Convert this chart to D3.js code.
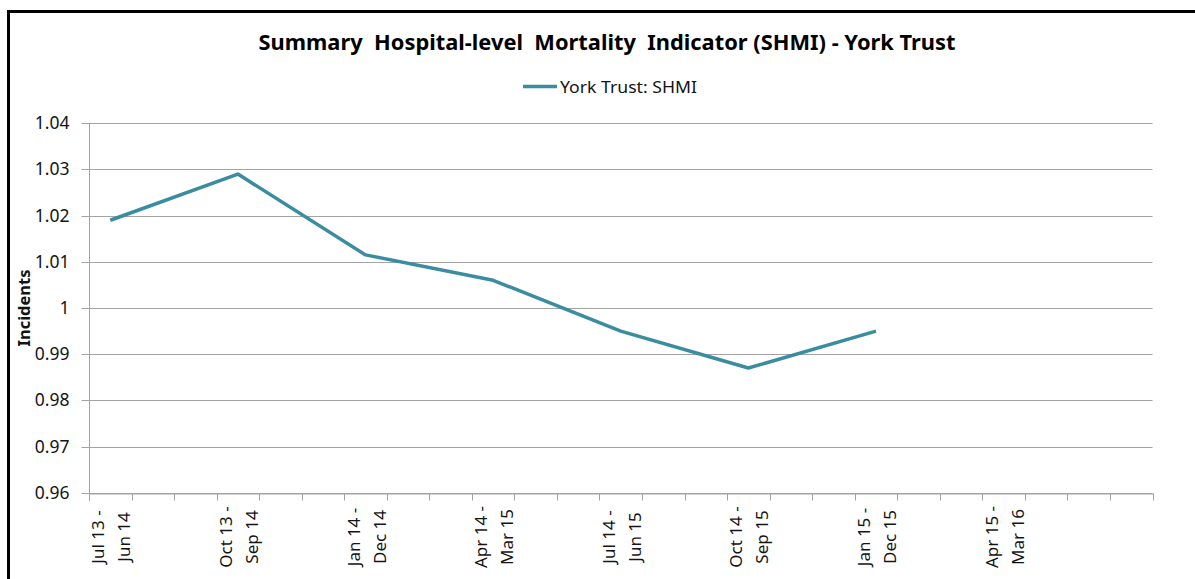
<!DOCTYPE html>
<html>
<head>
<meta charset="utf-8">
<script src="https://cdn.jsdelivr.net/npm/d3@7"></script>
<style>
  body { margin: 0; background: #fff; }
  svg { display: block; }
  text { font-family: "Noto Sans", "Open Sans", sans-serif; }
</style>
</head>
<body>
<svg id="chart" width="1195" height="579"></svg>
<script>
// ---------- data ----------
const chartTitle = "Summary  Hospital-level  Mortality  Indicator (SHMI) - York Trust";
const seriesName = "York Trust: SHMI";
const yAxisTitle = "Incidents";
// 25 category slots on the axis; only every third one carries a label
const categories = [
  "Jul 13 - Jun 14", "", "",
  "Oct 13 - Sep 14", "", "",
  "Jan 14 - Dec 14", "", "",
  "Apr 14 - Mar 15", "", "",
  "Jul 14 - Jun 15", "", "",
  "Oct 14 - Sep 15", "", "",
  "Jan 15 - Dec 15", "", "",
  "Apr 15 - Mar 16", "", "", ""
];
const shmiValues = [
  1.019, null, null,
  1.029, null, null,
  1.0115, null, null,
  1.006, null, null,
  0.995, null, null,
  0.987, null, null,
  0.995, null, null,
  null, null, null, null
];
const yTicks = [0.96, 0.97, 0.98, 0.99, 1.00, 1.01, 1.02, 1.03, 1.04];

// ---------- layout ----------
const svg = d3.select("#chart");
const plot = { left: 89, right: 1152.5, top: 123.3, bottom: 492.7 };
const lineColor = "#3A8CA0";
const gridColor = "#A3A3A3";
const textColor = "#141414";

const x = d3.scaleBand()
  .domain(d3.range(categories.length))
  .range([plot.left, plot.right])
  .paddingInner(0).paddingOuter(0);
const y = d3.scaleLinear()
  .domain([d3.min(yTicks), d3.max(yTicks)])
  .range([plot.bottom, plot.top]);
const cx = i => x(i) + x.bandwidth() / 2;

// outer frame (black border on top and left)
svg.append("path")
  .attr("d", "M8.5,579 L8.5,11.5 L1195,11.5")
  .attr("fill", "none").attr("stroke", "#000").attr("stroke-width", 3);

// gridlines
svg.append("g")
  .selectAll("line").data(yTicks).join("line")
  .attr("x1", plot.left).attr("x2", plot.right)
  .attr("y1", d => Math.round(y(d)) + 0.5).attr("y2", d => Math.round(y(d)) + 0.5)
  .attr("stroke", gridColor).attr("stroke-width", 1);

// y axis
const yAxis = svg.append("g")
  .attr("transform", `translate(${plot.left + 0.5},0)`)
  .call(d3.axisLeft(y).tickValues(yTicks).tickSize(8).tickPadding(12)
    .tickFormat(d => String(+d.toFixed(2))));
yAxis.select(".domain").remove();
yAxis.selectAll(".tick line").attr("stroke", gridColor);
yAxis.selectAll(".tick").attr("transform", d => `translate(0,${Math.round(y(d)) + 0.5})`);
yAxis.selectAll("text")
  .attr("fill", textColor)
  .style("font-family", "'Noto Sans', sans-serif")
  .style("font-size", "17.5px");
svg.append("line")
  .attr("x1", plot.left + 0.5).attr("x2", plot.left + 0.5)
  .attr("y1", plot.top).attr("y2", plot.bottom + 8)
  .attr("stroke", gridColor);

// x axis: ticks at category boundaries
const xAxis = svg.append("g")
  .attr("transform", `translate(0,${Math.round(plot.bottom) + 0.5})`)
  .call(d3.axisBottom(x).tickValues([]).tickSizeOuter(0));
xAxis.select(".domain").attr("stroke", gridColor);
const boundaries = d3.range(categories.length + 1).map(i =>
  i < categories.length ? x(i) : x(categories.length - 1) + x.bandwidth());
xAxis.selectAll("line.bnd").data(boundaries).join("line")
  .attr("class", "bnd")
  .attr("x1", d => Math.round(d) + 0.5).attr("x2", d => Math.round(d) + 0.5)
  .attr("y1", 0).attr("y2", 7)
  .attr("stroke", gridColor);

// x labels (rotated, two lines)
const labelled = categories.map((c, i) => ({ c, i })).filter(d => d.c !== "");
const lg = svg.append("g").selectAll("g").data(labelled).join("g")
  .attr("transform", d => `translate(${cx(d.i)},537) rotate(-90)`);
lg.append("text")
  .attr("text-anchor", "middle").attr("y", -6)
  .attr("fill", textColor).style("font-size", "17px")
  .text(d => d.c.split(" - ")[0] + " -");
lg.append("text")
  .attr("text-anchor", "middle").attr("y", 20)
  .attr("fill", textColor).style("font-size", "17px")
  .text(d => d.c.split(" - ")[1]);

// y axis title
svg.append("text")
  .attr("transform", `translate(30,${(plot.top + plot.bottom) / 2}) rotate(-90)`)
  .attr("text-anchor", "middle")
  .attr("fill", textColor)
  .style("font-size", "16.5px").style("font-weight", "bold")
  .attr("textLength", 77).attr("lengthAdjust", "spacingAndGlyphs")
  .text(yAxisTitle);

// series line (gaps connected)
const pts = shmiValues.map((v, i) => ({ v, i })).filter(d => d.v !== null);
svg.append("path")
  .datum(pts)
  .attr("fill", "none")
  .attr("stroke", lineColor)
  .attr("stroke-width", 3.5)
  .attr("stroke-linejoin", "round")
  .attr("d", d3.line().x(d => cx(d.i)).y(d => y(d.v)));

// title
svg.append("text")
  .attr("x", 607).attr("y", 50)
  .attr("text-anchor", "middle")
  .attr("fill", "#000")
  .style("font-size", "21px").style("font-weight", "bold")
  .style("white-space", "pre")
  .attr("textLength", 697).attr("lengthAdjust", "spacingAndGlyphs")
  .text(chartTitle);

// legend
svg.append("line")
  .attr("x1", 523).attr("x2", 557).attr("y1", 86.5).attr("y2", 86.5)
  .attr("stroke", lineColor).attr("stroke-width", 3.5);
svg.append("text")
  .attr("x", 560).attr("y", 92.5)
  .attr("fill", textColor)
  .style("font-size", "17px")
  .attr("textLength", 137).attr("lengthAdjust", "spacingAndGlyphs")
  .text(seriesName);
</script>
</body>
</html>
